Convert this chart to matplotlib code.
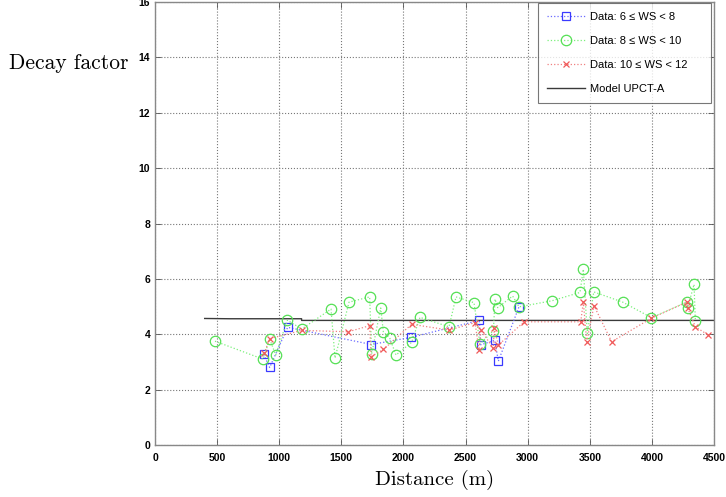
import matplotlib
matplotlib.use("Agg")
import matplotlib.pyplot as plt

# Data: 6 <= WS < 8
dist_a = [875, 923, 1068, 1742, 2063, 2611, 2622, 2735, 2764, 2930]
val_a = [3.27, 2.80, 4.25, 3.63, 3.89, 4.50, 3.62, 3.78, 3.03, 4.99]

# Data: 8 <= WS < 10
dist_b = [483, 870, 923, 972, 1065, 1181, 1417, 1449, 1562, 1728, 1744, 1817,
          1838, 1889, 1940, 2066, 2133, 2367, 2423, 2568, 2616, 2724, 2737,
          2759, 2879, 2930, 3196, 3421, 3448, 3480, 3532, 3765, 3996, 4285,
          4288, 4339, 4350]
val_b = [3.75, 3.10, 3.83, 3.25, 4.51, 4.19, 4.91, 3.14, 5.16, 5.35, 3.29, 4.95,
         4.09, 3.87, 3.25, 3.71, 4.61, 4.27, 5.35, 5.14, 3.65, 4.13, 5.27,
         4.96, 5.38, 4.99, 5.21, 5.51, 6.35, 4.03, 5.53, 5.16, 4.60, 5.17,
         4.96, 5.80, 4.47]

# Data: 10 <= WS < 12
dist_c = [880, 923, 1181, 1556, 1728, 1739, 1838, 2066, 2367, 2576, 2608, 2624,
          2723, 2731, 2764, 2971, 3427, 3448, 3475, 3534, 3676, 3996, 4285,
          4288, 4350, 4454]
val_c = [3.31, 3.84, 4.14, 4.09, 4.31, 3.19, 3.45, 4.36, 4.15, 4.42, 3.43, 4.15,
         3.49, 4.21, 3.61, 4.45, 4.45, 5.17, 3.73, 5.03, 3.73, 4.58, 5.17,
         4.95, 4.27, 3.97]

# Model UPCT-A
dist_m = [400, 600, 1180, 1180, 4500]
val_m = [4.57, 4.56, 4.56, 4.50, 4.50]

xticks = [0, 500, 1000, 1500, 2000, 2500, 3000, 3500, 4000, 4500]
yticks = [0, 2, 4, 6, 8, 10, 12, 14, 16]

fig = plt.figure(figsize=(7.26, 4.97), dpi=100)
ax = fig.add_axes([0.2135, 0.1046, 0.77, 0.8914])

ax.plot(dist_a, val_a, linestyle=':', color='#6a6aff', marker='s', markersize=5.5,
        markerfacecolor='none', markeredgecolor='#3a3aff', markeredgewidth=0.9,
        linewidth=0.9, label='Data: 6 ≤ WS < 8', zorder=3)
ax.plot(dist_b, val_b, linestyle=':', color='#7cf07c', marker='o', markersize=7.5,
        markerfacecolor='none', markeredgecolor='#55e055', markeredgewidth=0.9,
        linewidth=0.9, label='Data: 8 ≤ WS < 10', zorder=3)
ax.plot(dist_c, val_c, linestyle=':', color='#f08080', marker='x', markersize=5,
        markeredgecolor='#f05a5a', markeredgewidth=0.9,
        linewidth=0.9, label='Data: 10 ≤ WS < 12', zorder=3)
ax.plot(dist_m, val_m, linestyle='-', color='#3a3a3a', linewidth=1.0,
        label='Model UPCT-A', zorder=2)

ax.set_xlim(0, 4500)
ax.set_ylim(0, 16)
ax.set_xticks(xticks)
ax.set_yticks(yticks)
ax.tick_params(direction='in', top=True, right=True, labelsize=7.5, length=4,
               width=0.6, colors='#555555', labelcolor='black')
ax.tick_params(axis='x', pad=6)
for lab in ax.get_xticklabels() + ax.get_yticklabels():
    lab.set_fontfamily('Liberation Sans')
    lab.set_fontweight('bold')
ax.grid(True, linestyle=':', color='#777777', linewidth=0.8)
for s in ax.spines.values():
    s.set_color('#888888')
    s.set_linewidth(1.0)

ax.set_xlabel('Distance (m)', fontfamily='cmr10', fontsize=15, labelpad=5)
fig.text(0.012, 0.872, 'Decay factor', fontfamily='cmr10', fontsize=15.5,
         ha='left', va='center')

leg = ax.legend(loc='upper left', bbox_to_anchor=(0.685, 0.5, 0.3096, 0.497),
                mode='expand', borderaxespad=0.0, frameon=True, fancybox=False,
                borderpad=0.8, labelspacing=1.25, handlelength=3.4,
                handletextpad=0.5,
                prop={'family': 'Liberation Sans', 'size': 8})
leg.get_frame().set_edgecolor('#555555')
leg.get_frame().set_linewidth(0.8)

fig.savefig('out.png', dpi=100)
